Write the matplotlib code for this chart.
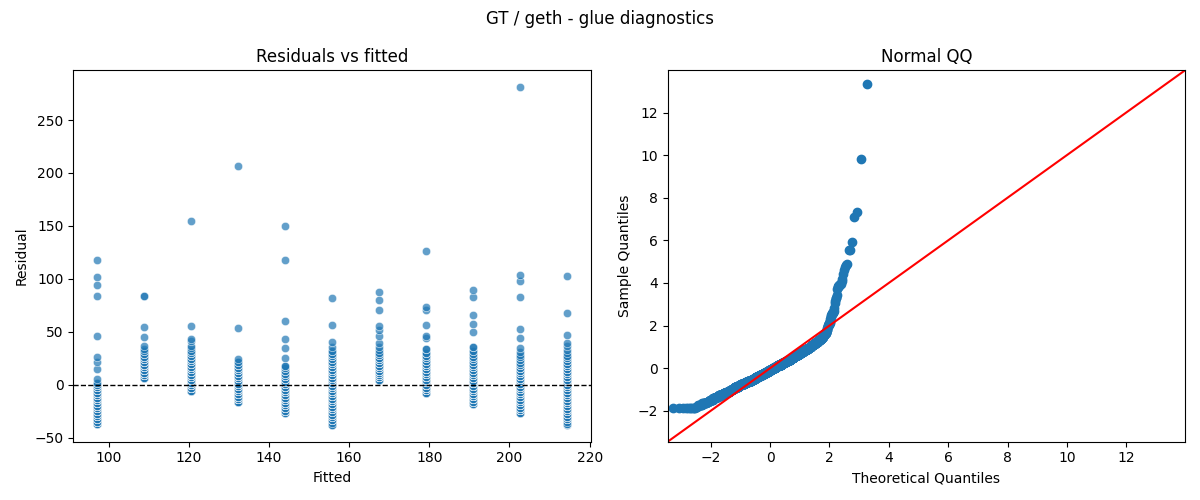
import numpy as np
import matplotlib
matplotlib.use("Agg")
import matplotlib.pyplot as plt
import seaborn as sns
from statistics import NormalDist

# ---- fitted levels (one per column of residuals) ----
fitted_levels = [97.1, 108.85, 120.6, 132.35, 144.0, 155.75, 167.4, 179.2, 190.9, 202.7, 214.4]

# ---- residual values per fitted level, with how many observations sit at each ----
res_97 = [-37.3, -34.8, -32.3, -29.8, -27.3, -24.8, -22.3, -19.8, -17.3, -14.8, -12.3, -9.8, -7.3,
          -4.8, -2.3, 0.2, 2.0, 5.6, 14.7, 21.3, 26.3, 46.0, 83.6, 94.0, 101.5, 117.8]
cnt_97 = [6, 5, 5, 6, 5, 11, 11, 10, 10, 15, 15, 13, 13, 12, 12, 4, 2, 1, 1, 1, 1, 1, 1, 1, 1, 1]

res_109 = [6.6, 9.1, 11.6, 14.1, 16.6, 19.1, 21.6, 24.1, 26.6, 29.1, 31.6, 34.1, 36.6, 45.1, 54.5, 84.3]
cnt_109 = [9, 9, 9, 8, 8, 7, 5, 5, 4, 3, 2, 1, 1, 1, 1, 2]

res_121 = [-5.4, -2.9, -0.4, 2.1, 4.6, 7.1, 9.6, 12.1, 14.6, 17.1, 19.6, 22.1, 24.6, 27.1, 29.6,
           32.1, 34.6, 37.1, 41.0, 43.2, 55.8, 155.0]
cnt_121 = [7, 11, 11, 14, 14, 11, 11, 10, 9, 7, 7, 4, 4, 3, 3, 2, 1, 1, 1, 1, 1, 1]

res_132 = [-16.3, -13.8, -11.3, -8.8, -6.3, -3.8, -1.3, 1.2, 3.7, 6.2, 8.7, 11.2, 13.7, 16.2, 18.7,
           21.2, 24.4, 53.6, 207.0]
cnt_132 = [5, 12, 12, 13, 13, 12, 12, 11, 11, 9, 9, 6, 6, 4, 4, 2, 1, 1, 1]

res_144 = [-27.0, -24.5, -22.0, -19.5, -17.0, -14.5, -12.0, -9.5, -7.0, -4.5, -2.0, 0.5, 3.0, 5.5,
           8.0, 10.5, 13.0, 15.5, 18.0, 25.4, 34.8, 43.2, 60.5, 118.0, 150.0]
cnt_144 = [3, 5, 6, 8, 9, 15, 15, 14, 14, 12, 11, 9, 9, 6, 5, 3, 3, 2, 2, 1, 1, 1, 1, 1, 1]

res_156 = [-37.6, -35.7, -33.2, -30.7, -28.2, -25.7, -23.2, -20.7, -18.2, -15.7, -13.2, -10.7, -8.2,
           -5.7, -3.2, -0.7, 1.8, 4.3, 6.8, 9.3, 11.8, 14.3, 16.8, 19.3, 21.8, 24.3, 26.8, 29.3,
           31.8, 35.7, 40.1, 56.7, 81.8]
cnt_156 = [3, 1, 4, 4, 5, 4, 10, 9, 9, 9, 14, 14, 13, 13, 13, 12, 11, 11, 11, 10, 8, 7, 6, 6, 4, 3,
           3, 3, 2, 1, 1, 1, 1]

res_167 = [5.0, 7.0, 9.0, 11.0, 13.0, 15.5, 18.0, 20.5, 23.0, 25.5, 28.0, 30.5, 33.0, 35.5, 39.5,
           45.7, 52.0, 55.8, 70.5, 79.9, 87.7]
cnt_167 = [8, 9, 8, 8, 8, 8, 7, 5, 5, 4, 3, 2, 1, 1, 1, 1, 1, 1, 1, 1, 1]

res_179 = [-7.6, -5.1, -2.6, -0.1, 2.4, 4.9, 7.4, 9.9, 12.4, 14.9, 17.4, 19.9, 22.4, 24.9, 27.4,
           29.9, 33.8, 44.2, 45.7, 56.7, 70.2, 73.9, 126.0]
cnt_179 = [6, 8, 12, 12, 17, 16, 13, 13, 9, 8, 6, 6, 4, 3, 3, 3, 2, 1, 1, 1, 1, 1, 1]

res_191 = [-18.5, -16.0, -13.5, -11.0, -8.5, -6.0, -3.5, -1.0, 1.5, 4.0, 6.5, 9.0, 11.5, 14.0, 16.5,
           19.0, 21.5, 24.0, 26.5, 29.0, 31.6, 35.7, 49.8, 57.3, 65.8, 82.7, 89.6]
cnt_191 = [4, 4, 14, 14, 14, 14, 13, 14, 14, 14, 11, 10, 8, 7, 6, 6, 4, 3, 3, 2, 2, 2, 1, 1, 1, 1, 1]

res_203 = [-26.6, -24.1, -21.6, -19.1, -16.6, -14.1, -11.6, -9.1, -6.6, -4.1, -1.6, 0.9, 3.4, 5.9,
           8.4, 10.9, 13.4, 15.9, 18.4, 20.9, 23.4, 25.9, 28.4, 30.9, 34.8, 44.2, 52.6, 82.7, 98.4,
           103.7, 281.0]
cnt_203 = [4, 8, 8, 8, 9, 15, 15, 14, 14, 13, 14, 14, 14, 10, 9, 6, 5, 5, 4, 2, 2, 2, 1, 1, 1, 1, 1,
           1, 1, 1, 1]

res_214 = [-37.8, -37.2, -35.0, -32.5, -30.0, -27.5, -25.0, -22.5, -20.0, -17.5, -15.0, -12.5, -10.0,
           -7.5, -5.0, -2.5, 0.0, 2.5, 5.0, 7.5, 10.0, 12.5, 15.0, 17.5, 20.0, 22.5, 25.0, 27.5,
           30.0, 33.2, 36.5, 39.5, 47.3, 67.7, 102.8]
cnt_214 = [1, 2, 1, 5, 4, 6, 5, 11, 11, 11, 11, 16, 16, 15, 14, 13, 13, 13, 13, 9, 9, 6, 6, 6, 5, 3,
           3, 2, 1, 1, 1, 1, 1, 1, 1]

residual_lists = [res_97, res_109, res_121, res_132, res_144, res_156, res_167, res_179, res_191,
                  res_203, res_214]
count_lists = [cnt_97, cnt_109, cnt_121, cnt_132, cnt_144, cnt_156, cnt_167, cnt_179, cnt_191,
               cnt_203, cnt_214]

# ---- expand into one row per observation ----
fitted = np.concatenate([np.full(sum(c), f) for f, c in zip(fitted_levels, count_lists)])
resid = np.concatenate([np.repeat(r, c) for r, c in zip(residual_lists, count_lists)])

# ---- normal QQ: standardised residuals vs normal quantiles ----
n = len(resid)
sample_q = np.sort((resid - resid.mean()) / resid.std())
nd = NormalDist()
theo_q = np.array([nd.inv_cdf(i / (n + 1)) for i in range(1, n + 1)])

fig, axes = plt.subplots(1, 2, figsize=(12, 5), dpi=100)

# Plot 1: residuals vs fitted
ax1 = axes[0]
sns.scatterplot(x=fitted, y=resid, alpha=0.7, ax=ax1)
ax1.axhline(0, color="black", linestyle="--", linewidth=1)
ax1.set_title("Residuals vs fitted")
ax1.set_xlabel("Fitted")
ax1.set_ylabel("Residual")

# Plot 2: normal QQ with 45 degree line
ax2 = axes[1]
ax2.plot(theo_q, sample_q, marker="o", linestyle="none",
         markerfacecolor="C0", markeredgecolor="C0")
lo, hi = -3.45, 13.98
ax2.plot([lo, hi], [lo, hi], "r-")
ax2.set_xlim(lo, hi)
ax2.set_ylim(lo, hi)
ax2.set_title("Normal QQ")
ax2.set_xlabel("Theoretical Quantiles")
ax2.set_ylabel("Sample Quantiles")

fig.suptitle("GT / geth - glue diagnostics")
plt.tight_layout()
plt.savefig("out.png", dpi=100)
